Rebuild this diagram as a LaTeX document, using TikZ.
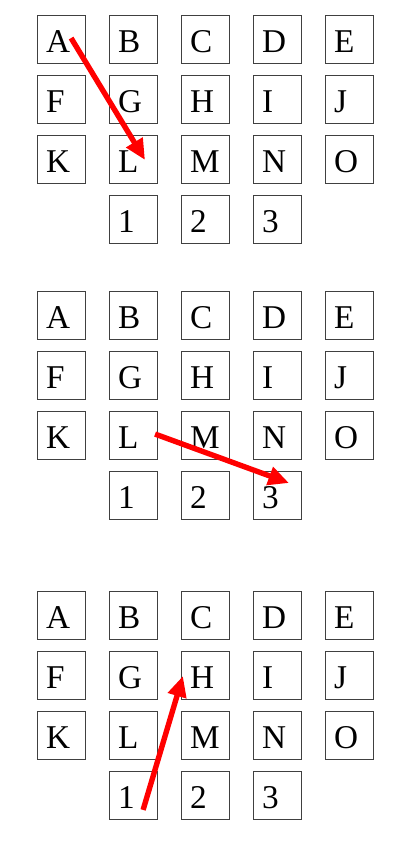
\documentclass[tikz,border=0pt]{standalone}
\usepackage{fontspec}
\setmainfont{Liberation Serif}
\usetikzlibrary{arrows.meta,calc}
\tikzstyle{cell}=[draw=black!75,line width=0.6pt,minimum size=1cm,inner xsep=0.19cm,text width=0.62cm,text height=0.53cm,text depth=0cm,align=left,font=\fontsize{19.7}{22}\selectfont]
\tikzstyle{move}=[-{Triangle[length=0.43cm,width=0.38cm]},red,line width=3.2pt]

\begin{document}
\begin{tikzpicture}
\useasboundingbox (-1.271,0.833) rectangle (7.125,-17.042);
% first grid
\node[cell] (A-1) at (0, 0) {A};
\node[cell] (B-1) at (1.5, 0) {B};
\node[cell] (C-1) at (3, 0) {C};
\node[cell] (D-1) at (4.5, 0) {D};
\node[cell] (E-1) at (6, 0) {E};
\node[cell] (F-1) at (0, -1.25) {F};
\node[cell] (G-1) at (1.5, -1.25) {G};
\node[cell] (H-1) at (3, -1.25) {H};
\node[cell] (I-1) at (4.5, -1.25) {I};
\node[cell] (J-1) at (6, -1.25) {J};
\node[cell] (K-1) at (0, -2.5) {K};
\node[cell] (L-1) at (1.5, -2.5) {L};
\node[cell] (M-1) at (3, -2.5) {M};
\node[cell] (N-1) at (4.5, -2.5) {N};
\node[cell] (O-1) at (6, -2.5) {O};
\node[cell] (n1-1) at (1.5, -3.75) {1};
\node[cell] (n2-1) at (3, -3.75) {2};
\node[cell] (n3-1) at (4.5, -3.75) {3};
% second grid
\node[cell] (A-2) at (0, -5.75) {A};
\node[cell] (B-2) at (1.5, -5.75) {B};
\node[cell] (C-2) at (3, -5.75) {C};
\node[cell] (D-2) at (4.5, -5.75) {D};
\node[cell] (E-2) at (6, -5.75) {E};
\node[cell] (F-2) at (0, -7) {F};
\node[cell] (G-2) at (1.5, -7) {G};
\node[cell] (H-2) at (3, -7) {H};
\node[cell] (I-2) at (4.5, -7) {I};
\node[cell] (J-2) at (6, -7) {J};
\node[cell] (K-2) at (0, -8.25) {K};
\node[cell] (L-2) at (1.5, -8.25) {L};
\node[cell] (M-2) at (3, -8.25) {M};
\node[cell] (N-2) at (4.5, -8.25) {N};
\node[cell] (O-2) at (6, -8.25) {O};
\node[cell] (n1-2) at (1.5, -9.5) {1};
\node[cell] (n2-2) at (3, -9.5) {2};
\node[cell] (n3-2) at (4.5, -9.5) {3};
% third grid
\node[cell] (A-3) at (0, -12) {A};
\node[cell] (B-3) at (1.5, -12) {B};
\node[cell] (C-3) at (3, -12) {C};
\node[cell] (D-3) at (4.5, -12) {D};
\node[cell] (E-3) at (6, -12) {E};
\node[cell] (F-3) at (0, -13.25) {F};
\node[cell] (G-3) at (1.5, -13.25) {G};
\node[cell] (H-3) at (3, -13.25) {H};
\node[cell] (I-3) at (4.5, -13.25) {I};
\node[cell] (J-3) at (6, -13.25) {J};
\node[cell] (K-3) at (0, -14.5) {K};
\node[cell] (L-3) at (1.5, -14.5) {L};
\node[cell] (M-3) at (3, -14.5) {M};
\node[cell] (N-3) at (4.5, -14.5) {N};
\node[cell] (O-3) at (6, -14.5) {O};
\node[cell] (n1-3) at (1.5, -15.75) {1};
\node[cell] (n2-3) at (3, -15.75) {2};
\node[cell] (n3-3) at (4.5, -15.75) {3};
% moves
\coordinate (from-1) at ($(A-1.center)+(0.21,0.04)$);
\coordinate (to-1) at ($(L-1.center)+(0.25,0)$);
\coordinate (from-2) at ($(L-2.center)+(0.46,0.04)$);
\coordinate (to-2) at ($(n3-2.center)+(0.25,0.27)$);
\coordinate (from-3) at ($(n1-3.center)+(0.21,-0.29)$);
\coordinate (to-3) at ($(H-3.center)+(-0.46,0)$);
\draw[move] (from-1) -- (to-1);
\draw[move] (from-2) -- (to-2);
\draw[move] (from-3) -- (to-3);
\end{tikzpicture}
\end{document}
